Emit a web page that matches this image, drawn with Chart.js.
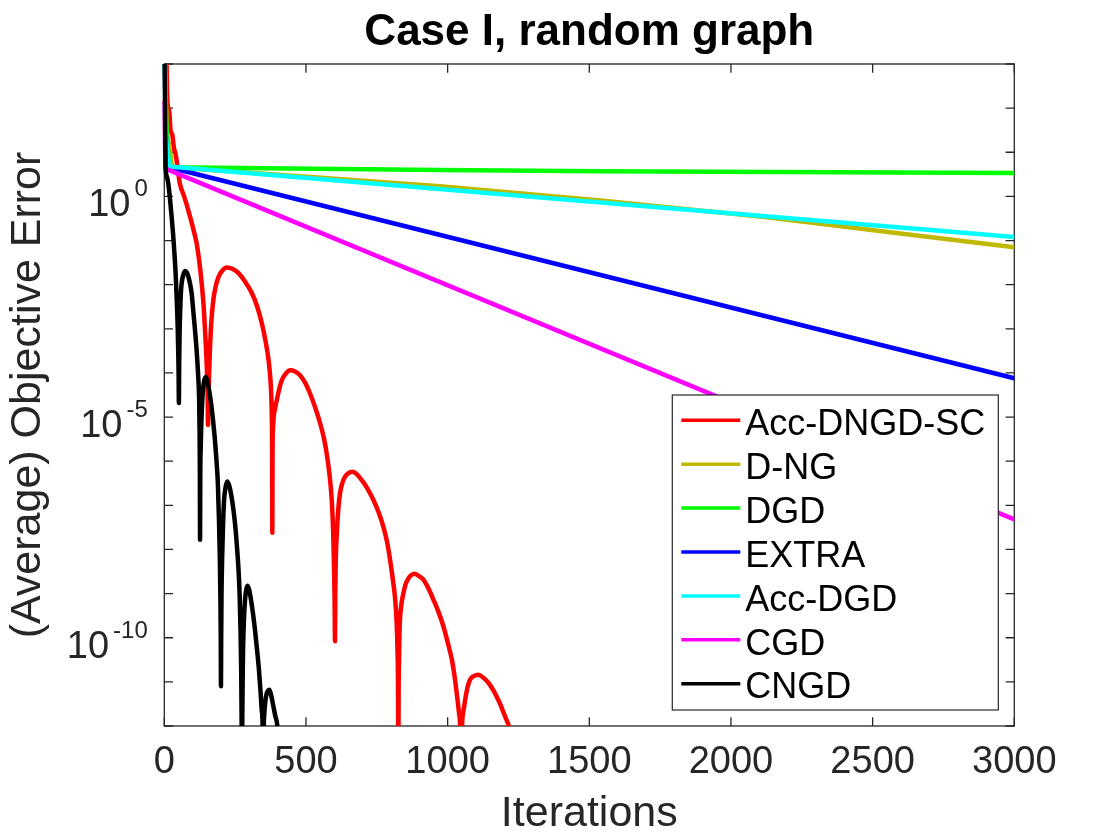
<!DOCTYPE html>
<html>
<head>
<meta charset="utf-8">
<title>Case I, random graph</title>
<script src="https://cdn.jsdelivr.net/npm/chart.js@4.4.1/dist/chart.umd.min.js"></script>
<style>
  html, body { margin: 0; padding: 0; background: #fff; }
  canvas { display: block; }
</style>
</head>
<body>
<canvas id="chart" width="1120" height="840"></canvas>
<script>
// series names and colours (MATLAB style)
const seriesNames = ['Acc-DNGD-SC', 'D-NG', 'DGD', 'EXTRA', 'Acc-DGD', 'CGD', 'CNGD'];
const seriesColors = ['#FF0000', '#BFB800', '#00FF00', '#0000FF', '#00FFFF', '#FF00FF', '#000000'];

// values: iteration, and log10 of the objective error (decades)
// Acc-DNGD-SC (red)
const redIter = [0, 8, 10, 14, 18, 22, 28, 34, 40, 45, 50, 55, 70, 85, 100, 114, 124, 132, 139, 144,
  148, 151, 153, 154.3, 156, 158, 161, 166, 173, 181, 191, 205, 220, 240, 262, 285, 309, 328, 344, 358,
  368, 374, 377.5, 379.5, 380.5, 381.3, 382, 383.5, 386, 391, 397, 405, 415, 428, 444, 460, 479, 497, 514, 532,
  550, 563, 573, 583, 591, 596, 599, 601, 602.5, 603.5, 605, 609, 614, 620, 628, 638, 650, 664, 680, 697,
  717, 738, 756, 773, 786, 797, 807, 815, 820, 823, 825, 826, 827, 828.5, 830, 835, 844, 852, 862, 872,
  882, 898, 915, 932, 950, 968, 985, 1000, 1015, 1025, 1032, 1040, 1044, 1047, 1049, 1051, 1055, 1062, 1070, 1079,
  1092, 1109, 1125, 1144, 1162, 1178, 1190, 1200, 1209, 1216, 1225];
const redLog = [3.8, 3.0, 2.3, 2.0, 1.9, 1.5, 1.4, 1.1, 0.95, 0.75, 0.5, 0.29, 0.0, -0.32, -0.68, -1.06, -1.5, -1.97, -2.5, -3.05,
  -3.55, -4.05, -4.5, -5.18, -4.6, -4.05, -3.48, -2.85, -2.35, -2.05, -1.83, -1.68, -1.61, -1.64, -1.74, -1.93, -2.19, -2.5, -2.87, -3.3,
  -3.71, -4.1, -4.5, -5.0, -5.6, -7.62, -5.8, -5.3, -5.0, -4.8, -4.62, -4.38, -4.16, -4.02, -3.94, -3.96, -4.05, -4.22, -4.46, -4.77,
  -5.14, -5.47, -5.82, -6.3, -6.88, -7.6, -8.39, -9.1, -10.08, -9.0, -8.3, -7.63, -7.1, -6.73, -6.5, -6.35, -6.27, -6.24, -6.3, -6.43,
  -6.62, -6.88, -7.15, -7.48, -7.82, -8.24, -8.7, -9.14, -9.65, -10.27, -11.2, -13, -11.2, -10.5, -9.89, -9.35, -8.99, -8.78, -8.65, -8.58,
  -8.55, -8.6, -8.69, -8.88, -9.14, -9.42, -9.74, -10.1, -10.5, -10.9, -11.25, -11.7, -12.0, -13, -13, -12.0, -11.7, -11.4, -11.13, -10.95,
  -10.87, -10.84, -10.9, -11.02, -11.2, -11.4, -11.57, -11.74, -11.88, -12.0, -12.3];

// D-NG (olive)
const dngIter = [0, 8, 17, 26, 30, 974, 1540, 2127, 2598, 3000];
const dngLog = [3.5, 1.5, 1.15, 0.75, 0.66, 0.23, -0.09, -0.47, -0.84, -1.15];

// DGD (green)
const dgdIter = [0, 8, 18, 970, 1540, 3000];
const dgdLog = [3.5, 1.4, 0.66, 0.60, 0.568, 0.531];

// EXTRA (blue)
const extraIter = [0, 6, 16, 3000];
const extraLog = [3.5, 1.2, 0.66, -4.12];

// Acc-DGD (cyan)
const accDgdIter = [0, 6, 18, 3000];
const accDgdLog = [3.5, 1.3, 0.68, -0.92];

// CGD (magenta)
const cgdIter = [0, 4, 3000];
const cgdLog = [2.13, 0.63, -7.32];

// CNGD (black)
const cngdIter = [0, 1, 3, 5, 9, 14, 20, 26, 31, 35, 40, 44, 47, 49, 50.5, 51.5, 52.5, 54, 56, 58,
  61, 66, 73, 80, 91, 97, 102, 108, 114, 119, 123, 124.5, 125.5, 126.2, 127, 128.5, 130, 135, 140, 146,
  152, 158, 165, 172, 178, 184, 189, 193, 196, 198, 199.3, 200, 200.8, 202, 204, 207, 211, 216, 222, 229,
  236, 243, 250, 256, 262, 266, 269, 271.5, 273, 274, 275, 276.5, 278, 281, 285, 289, 293, 299, 306, 313,
  320, 327, 334, 340, 344, 347, 348, 349.5, 351, 354, 357, 361, 366, 371, 377, 384, 391, 399, 402];
const cngdLog = [3.6, 3.0, 1.6, 0.63, 0.45, 0.29, -0.05, -0.47, -0.85, -1.22, -1.75, -2.35, -2.9, -3.48, -4.0, -4.68, -3.8, -3.1, -2.6, -2.25,
  -1.98, -1.8, -1.69, -1.73, -1.98, -2.22, -2.58, -3.0, -3.48, -4.0, -4.62, -5.3, -6.2, -7.78, -6.3, -5.7, -5.29, -4.5, -4.2, -4.09,
  -4.17, -4.39, -4.68, -5.07, -5.47, -5.97, -6.5, -7.33, -8.2, -9.1, -10.0, -11.1, -10.0, -9.0, -8.24, -7.5, -6.88, -6.6, -6.46, -6.55,
  -6.76, -7.05, -7.44, -7.9, -8.46, -9.05, -9.82, -10.8, -12.0, -13, -12.0, -11.0, -10.27, -9.6, -9.14, -8.92, -8.82, -8.9, -9.14, -9.45,
  -9.82, -10.25, -10.72, -11.25, -11.65, -12.0, -13, -12.6, -12.0, -11.63, -11.42, -11.27, -11.2, -11.18, -11.3, -11.52, -11.75, -12.0, -12.3];

// axes ticks
const xTicks = [0, 500, 1000, 1500, 2000, 2500, 3000];
const yTicks = [1e-12, 1e-11, 1e-10, 1e-9, 1e-8, 1e-7, 1e-6, 1e-5, 1e-4, 1e-3, 1e-2, 1e-1, 1e0, 1e1, 1e2, 1e3];
const yLabelValues = [1e0, 1e-5, 1e-10];
const yLabelExps = ['0', '-5', '-10'];

const seriesIter = [redIter, dngIter, dgdIter, extraIter, accDgdIter, cgdIter, cngdIter];
const seriesLog = [redLog, dngLog, dgdLog, extraLog, accDgdLog, cgdLog, cngdLog];
const smoothSeries = [true, false, false, false, false, false, true];

const FAMILY = "'Liberation Sans', Arial, Helvetica, sans-serif";
const AXIS_COLOR = '#262626';
const TICK_LEN = 8.7;

// 建立資料集
const datasets = seriesNames.map((name, i) => ({
    label: name,
    data: seriesIter[i].map((v, k) => ({ x: v, y: Math.pow(10, seriesLog[i][k]) })),
    borderColor: seriesColors[i],
    backgroundColor: seriesColors[i],
    borderWidth: 4.5,
    pointRadius: 0,
    fill: false,
    tension: 0,
    cubicInterpolationMode: smoothSeries[i] ? 'monotone' : 'default',
    borderJoinStyle: 'round',
    borderCapStyle: 'round',
    order: seriesNames.length - i,
    clip: { left: 2, top: 0, right: 0, bottom: 0 }
}));

// 框線與內側刻度
const axesBox = {
    id: 'axesBox',
    beforeDatasetsDraw(chart) {
        const { ctx, chartArea: a, scales: { x, y } } = chart;
        ctx.save();
        ctx.strokeStyle = AXIS_COLOR;
        ctx.lineWidth = 1.3;
        ctx.beginPath();
        x.ticks.forEach(t => {
            const px = x.getPixelForValue(t.value);
            ctx.moveTo(px, a.bottom);
            ctx.lineTo(px, a.bottom - TICK_LEN);
            ctx.moveTo(px, a.top);
            ctx.lineTo(px, a.top + TICK_LEN);
        });
        yTicks.forEach(v => {
            const py = y.getPixelForValue(v);
            ctx.moveTo(a.left, py);
            ctx.lineTo(a.left + TICK_LEN, py);
            ctx.moveTo(a.right, py);
            ctx.lineTo(a.right - TICK_LEN, py);
        });
        ctx.stroke();
        ctx.strokeRect(a.left, a.top, a.right - a.left, a.bottom - a.top);
        ctx.restore();
    },
    afterDraw(chart) {
        // y 軸標籤 10^n
        const { ctx, chartArea: a, scales: { y } } = chart;
        ctx.save();
        ctx.fillStyle = AXIS_COLOR;
        ctx.textAlign = 'left';
        ctx.textBaseline = 'alphabetic';
        const right = a.left - 16.5;
        yLabelValues.forEach((v, i) => {
            const py = y.getPixelForValue(v);
            ctx.font = `24px ${FAMILY}`;
            const ws = ctx.measureText(yLabelExps[i]).width;
            ctx.fillText(yLabelExps[i], right - ws, py);
            ctx.font = `38px ${FAMILY}`;
            const wb = ctx.measureText('10').width;
            ctx.fillText('10', right - ws - 4 - wb, py + 20);
        });
        ctx.restore();
    }
};

// 圖例方框
const boxLegend = {
    id: 'boxLegend',
    afterDraw(chart) {
        const { ctx, chartArea: a } = chart;
        const w = 326, h = 315;
        const left = a.right - 16 - w;
        const top = a.bottom - 16 - h;
        ctx.save();
        ctx.fillStyle = '#fff';
        ctx.fillRect(left, top, w, h);
        ctx.strokeStyle = AXIS_COLOR;
        ctx.lineWidth = 1.2;
        ctx.strokeRect(left, top, w, h);
        ctx.font = `36px ${FAMILY}`;
        ctx.textAlign = 'left';
        ctx.textBaseline = 'alphabetic';
        chart.data.datasets.forEach((ds, i) => {
            const rowY = top + 25.3 + i * 43.9;
            ctx.strokeStyle = ds.borderColor;
            ctx.lineWidth = 3.5;
            ctx.beginPath();
            ctx.moveTo(left + 9, rowY);
            ctx.lineTo(left + 68, rowY);
            ctx.stroke();
            ctx.fillStyle = '#000';
            ctx.fillText(ds.label, left + 73, rowY + 14.7);
        });
        ctx.restore();
    }
};

new Chart(document.getElementById('chart'), {
    type: 'line',
    data: { datasets: datasets },
    options: {
        responsive: false,
        animation: false,
        layout: { padding: { left: 0, right: 105.7, top: 0, bottom: 0 } },
        plugins: {
            legend: { display: false },
            tooltip: { enabled: false },
            title: {
                display: true,
                fullSize: false,
                text: 'Case I, random graph',
                color: '#000',
                font: { family: FAMILY, size: 44, weight: 'bold' },
                padding: { top: 6, bottom: 5.2 }
            }
        },
        scales: {
            x: {
                type: 'linear',
                min: 0,
                max: 3000,
                afterBuildTicks: scale => { scale.ticks = xTicks.map(v => ({ value: v })); },
                afterFit: scale => { scale.height = 114; },
                grid: { display: false, drawTicks: false },
                border: { display: false },
                ticks: {
                    color: AXIS_COLOR,
                    font: { family: FAMILY, size: 38 },
                    padding: 14,
                    maxRotation: 0,
                    autoSkip: false,
                    callback: v => String(v)
                },
                title: {
                    display: true,
                    text: 'Iterations',
                    color: AXIS_COLOR,
                    font: { family: FAMILY, size: 43 },
                    padding: { top: 0, bottom: 0 }
                }
            },
            y: {
                type: 'logarithmic',
                min: 1e-12,
                max: 1e3,
                afterBuildTicks: scale => { scale.ticks = yTicks.map(v => ({ value: v })); },
                afterFit: scale => { scale.width = 164.3; },
                grid: { display: false, drawTicks: false },
                border: { display: false },
                ticks: { display: false },
                title: {
                    display: true,
                    text: '(Average) Objective Error',
                    color: AXIS_COLOR,
                    font: { family: FAMILY, size: 43 },
                    padding: { top: 2, bottom: 0 }
                }
            }
        }
    },
    plugins: [axesBox, boxLegend]
});
</script>
</body>
</html>
